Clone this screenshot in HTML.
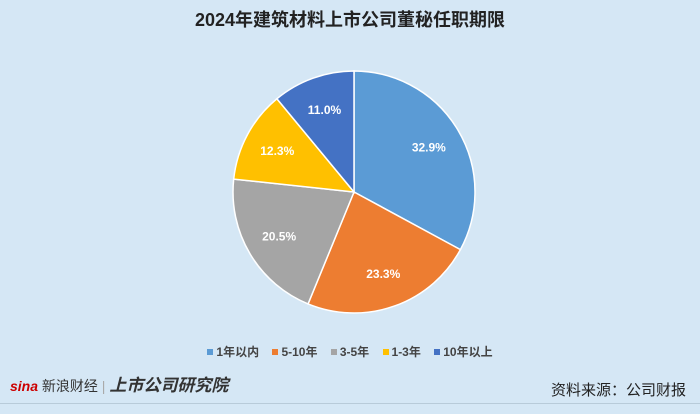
<!DOCTYPE html>
<html><head><meta charset="utf-8"><style>
body{margin:0;width:700px;height:414px;background:#d5e7f5;font-family:"Liberation Sans","Noto Sans CJK SC",sans-serif;position:relative;overflow:hidden}
.title{position:absolute;top:6px;width:700px;text-align:center;font-size:18px;font-weight:bold;color:#222}
.legend{position:absolute;top:343px;left:0;width:700px;text-align:center;font-size:12px;font-weight:bold;color:#444}
.legend span{margin:0 5px}
.legend i{display:inline-block;width:6px;height:6px;margin-right:3px;vertical-align:1px}
.src{position:absolute;right:14px;top:379px;font-size:15px;color:#222}
.logo{position:absolute;left:10px;top:371px;font-size:14px;color:#333}
.line{position:absolute;left:0;top:403px;width:700px;height:1px;background:#b8cbd9}
</style></head><body>
<div class="title">2024年建筑材料上市公司董秘任职期限</div>
<svg width="700" height="414" style="position:absolute;left:0;top:0">
<g id="pie"></g>
</svg>
<div class="legend">
<span><i style="background:#5b9bd5"></i>1年以内</span>
<span><i style="background:#ed7d31"></i>5-10年</span>
<span><i style="background:#a5a5a5"></i>3-5年</span>
<span><i style="background:#ffc000"></i>1-3年</span>
<span><i style="background:#4472c4"></i>10年以上</span>
</div>
<div class="logo"><b style="color:#c00;font-style:italic">sina</b> 新浪财经 <span style="color:#aaa">|</span> <b style="font-style:italic;font-size:17px">上市公司研究院</b></div>
<div class="src">资料来源：公司财报</div>
<div class="line"></div>
<script>
const categories=["1年以内","5-10年","3-5年","1-3年","10年以上"];
const values=[32.9,23.3,20.5,12.3,11.0];
const colors=["#5b9bd5","#ed7d31","#a5a5a5","#ffc000","#4472c4"];
const cx=354,cy=192,r=121;
const g=document.getElementById('pie');
const ns="http://www.w3.org/2000/svg";
const total=values.reduce((a,b)=>a+b,0);
let a0=-Math.PI/2;
values.forEach((v,i)=>{
  const a1=a0+v/total*2*Math.PI;
  const x0=cx+r*Math.cos(a0),y0=cy+r*Math.sin(a0),x1=cx+r*Math.cos(a1),y1=cy+r*Math.sin(a1);
  const p=document.createElementNS(ns,'path');
  p.setAttribute('d',`M${cx},${cy}L${x0},${y0}A${r},${r} 0 ${a1-a0>Math.PI?1:0} 1 ${x1},${y1}Z`);
  p.setAttribute('fill',colors[i]);p.setAttribute('stroke','#fff');p.setAttribute('stroke-width','1.5');
  
  
  g.appendChild(p);
  const am=(a0+a1)/2;
  const t=document.createElementNS(ns,'text');
  t.setAttribute('x',cx+r*0.72*Math.cos(am));t.setAttribute('y',cy+r*0.72*Math.sin(am)+4);
  t.setAttribute('text-anchor','middle');t.setAttribute('fill','#fff');t.setAttribute('font-size','12');t.setAttribute('font-weight','bold');
  t.setAttribute('font-family','Liberation Sans, sans-serif');
  t.textContent=v.toFixed(1)+'%';
  
  
  g.appendChild(t);
  a0=a1;
});
</script>
</body></html>
